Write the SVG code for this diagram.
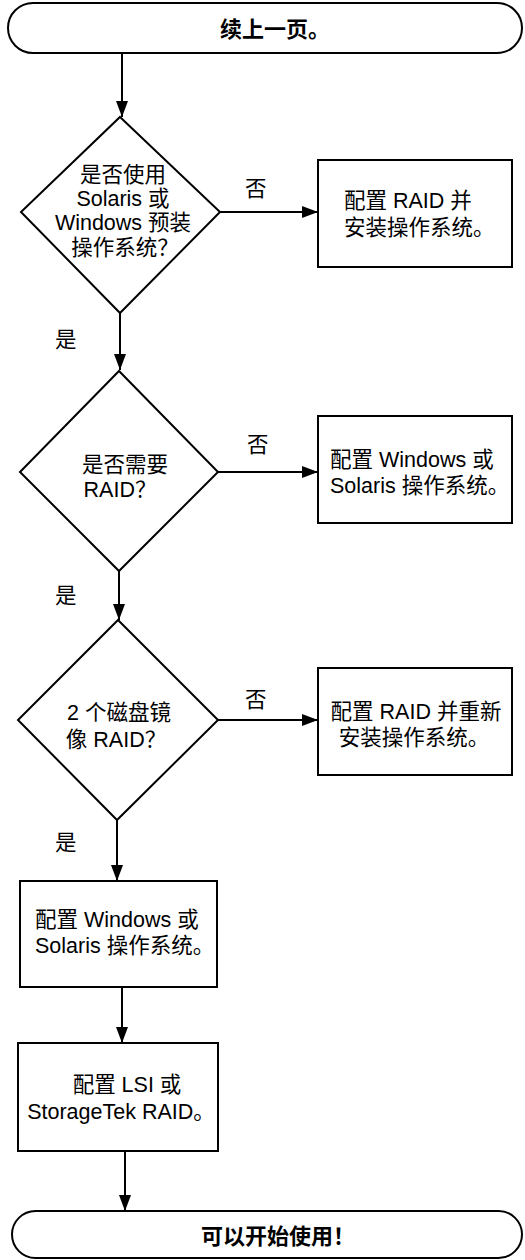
<svg xmlns="http://www.w3.org/2000/svg" width="525" height="1260" viewBox="0 0 525 1260">
<style>
text{font-family:"Liberation Sans","Noto Sans CJK SC",sans-serif;font-size:21.5px;fill:#000}
.b{font-weight:bold;font-size:22px}
.m{text-anchor:middle}
.shape{fill:#fff;stroke:#000;stroke-width:2}
.conn{fill:none;stroke:#000;stroke-width:2}
</style>
<defs>
<marker id="ah" markerWidth="16" markerHeight="12" refX="16" refY="6" orient="auto" markerUnits="userSpaceOnUse">
<path d="M0,0 L16,6 L0,12 Z" fill="#000"/>
</marker>
</defs>
<g id="connectors">
<path class="conn" d="M122,53 V117" marker-end="url(#ah)"/>
<path class="conn" d="M220,212 H318" marker-end="url(#ah)"/>
<path class="conn" d="M120,313 V370" marker-end="url(#ah)"/>
<path class="conn" d="M218,472 H318" marker-end="url(#ah)"/>
<path class="conn" d="M119,571 V620" marker-end="url(#ah)"/>
<path class="conn" d="M218,720 H318" marker-end="url(#ah)"/>
<path class="conn" d="M117,820 V881" marker-end="url(#ah)"/>
<path class="conn" d="M122,987 V1043" marker-end="url(#ah)"/>
<path class="conn" d="M125,1151 V1211" marker-end="url(#ah)"/>
<text x="245" y="196">否</text>
<text x="55" y="347">是</text>
<text x="247" y="452">否</text>
<text x="55" y="603">是</text>
<text x="245" y="707">否</text>
<text x="55" y="850">是</text>
</g>
<g id="start">
<rect class="shape" x="8" y="3" width="514" height="50" rx="25"/>
<text class="b m" x="275" y="37">续上一页。</text>
</g>
<g id="d1">
<polygon class="shape" points="120,117 220,212 120,313 21,212"/>
<text class="m" x="123" y="182">是否使用</text>
<text class="m" x="123" y="206">Solaris 或</text>
<text class="m" x="123" y="230">Windows 预装</text>
<text class="m" x="125" y="255">操作系统？</text>
</g>
<g id="b1">
<rect class="shape" x="318" y="160" width="194" height="107"/>
<text x="344" y="208">配置 RAID 并</text>
<text x="344" y="235">安装操作系统。</text>
</g>
<g id="d2">
<polygon class="shape" points="119,371 218,472 119,571 20,472"/>
<text class="m" x="125" y="472">是否需要</text>
<text class="m" x="120" y="497">RAID？</text>
</g>
<g id="b2">
<rect class="shape" x="318" y="416" width="194" height="107"/>
<text x="330" y="467">配置 Windows 或</text>
<text x="330" y="493">Solaris 操作系统。</text>
</g>
<g id="d3">
<polygon class="shape" points="118,620 218,720 117,820 18,720"/>
<text class="m" x="119" y="720">2 个磁盘镜</text>
<text class="m" x="116" y="747">像 RAID？</text>
</g>
<g id="b3">
<rect class="shape" x="318" y="668" width="194" height="107"/>
<text class="m" x="416" y="719">配置 RAID 并重新</text>
<text class="m" x="414" y="745">安装操作系统。</text>
</g>
<g id="b4">
<rect class="shape" x="20" y="881" width="197" height="106"/>
<text x="35" y="927">配置 Windows 或</text>
<text x="35" y="953">Solaris 操作系统。</text>
</g>
<g id="b5">
<rect class="shape" x="18" y="1043" width="200" height="108"/>
<text class="m" x="127" y="1092">配置 LSI 或</text>
<text class="m" x="121" y="1119">StorageTek RAID。</text>
</g>
<g id="end">
<rect class="shape" x="12" y="1211" width="510" height="47" rx="23.5"/>
<text class="b m" x="278" y="1244">可以开始使用！</text>
</g>
</svg>
